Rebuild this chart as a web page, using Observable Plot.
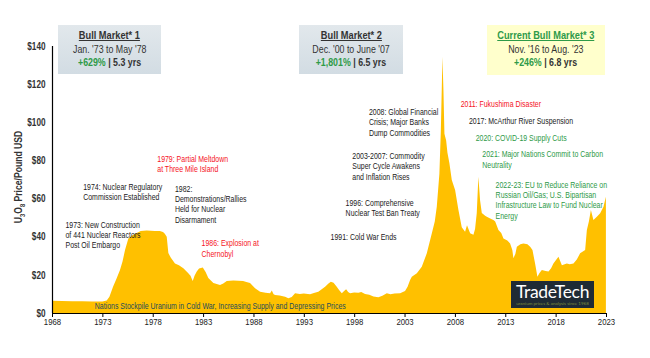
<!DOCTYPE html>
<html><head><meta charset="utf-8">
<script src="https://cdn.jsdelivr.net/npm/d3@7"></script>
<script src="https://cdn.jsdelivr.net/npm/@observablehq/plot@0.6"></script>
<style>
body{margin:0;background:#fff;}
#wrap{position:relative;width:650px;height:358px;font-family:"Liberation Sans",Arial,sans-serif;}
#wrap svg{position:absolute;left:0;top:0;overflow:visible;}
.box{position:absolute;text-align:center;color:#333;font-size:10.5px;line-height:13.5px;box-sizing:border-box;padding-top:4px;white-space:nowrap;}
.box .ln{display:block;}
.box .ln span.sq{display:inline-block;transform:scaleX(0.84);}
.box .t{font-weight:bold;font-size:11px;text-decoration:underline;}
.box .g{color:#2e9a48;font-weight:bold;}
.box .b{font-weight:bold;}
.blue{background:linear-gradient(#e2e8ec,#d2dce3);}
.yel{background:#ffffcc;}
#logo{position:absolute;left:511px;top:281px;width:83px;height:27px;background:#1f2b35;text-align:center;}
#logo .n{font-family:Lato,"Open Sans",sans-serif;color:#fff;font-size:17.5px;line-height:18px;letter-spacing:-0.3px;padding-top:2px;}
#logo .s{font-family:Lato,sans-serif;color:#7d8f3d;font-size:4.5px;line-height:5px;}
</style>
</head><body>
<div id="wrap"></div>
<script>
// U3O8 spot price (USD/lb)
const years = [1968,1969,1970,1971,1972,1973,1973.43,1973.7,1974.06,1974.4,1974.75,1975.0,1975.25,1975.58,1975.9,1976.41,1976.8,1977.4,1978.2,1978.7,1979.02,1979.2,1979.39,1979.55,1979.8,1980.21,1980.6,1981.04,1981.51,1981.75,1981.97,1982.15,1982.37,1982.6,1982.97,1983.25,1983.52,1984.02,1984.68,1985.0,1985.35,1986.0,1986.97,1987.3,1987.66,1988.16,1988.66,1989.2,1989.65,1989.82,1990.0,1990.15,1990.6,1991.14,1991.47,1991.8,1992.13,1992.6,1993.0,1993.62,1994.0,1994.44,1995.11,1995.45,1995.68,1995.95,1996.27,1996.5,1996.77,1997.0,1997.2,1997.4,1997.59,1998.0,1998.42,1998.7,1999.08,1999.5,1999.91,2000.4,2000.8,2001.24,2001.6,2002.0,2002.56,2003.05,2003.3,2003.55,2003.72,2004.22,2004.71,2005.21,2005.71,2006.0,2006.2,2006.46,2006.6,2006.7,2006.76,2006.86,2006.96,2007.13,2007.26,2007.45,2007.69,2008.02,2008.35,2008.68,2009.01,2009.2,2009.51,2009.84,2010.0,2010.17,2010.33,2010.5,2010.67,2011.0,2011.17,2011.5,2011.82,2012.0,2012.32,2012.6,2012.82,2013.2,2013.48,2013.7,2013.81,2014.0,2014.15,2014.5,2014.8,2015.2,2015.47,2015.7,2015.96,2016.19,2016.4,2016.63,2017.0,2017.29,2017.55,2017.78,2018.0,2018.28,2018.62,2019.11,2019.4,2019.77,2020.1,2020.43,2020.93,2021.1,2021.3,2021.5,2021.75,2022.09,2022.42,2022.75,2022.99];
const prices = [6.4,6.3,6.2,6.1,6.0,6.0,6.5,8.5,13.8,18,22.5,27,33,39,40.5,42,43,43.2,43,43,42.5,41.5,40,31.4,29,26,25,23.5,21,19.5,16.8,19.5,21.7,23.3,23.8,21.5,18.3,15.7,14.7,15.5,16.8,17,16.8,16.3,15.7,13,11.2,10.6,10.3,11.8,9.8,9.4,9.2,8.5,7.7,8.4,10.3,10,10.2,9.8,10.5,11.2,13.8,15.5,16.4,15.8,13.8,12,10.3,11.5,12.4,11,10.3,10.8,10.6,11,10,9.6,8.6,8.2,9,10.3,9.8,10.2,10.4,11.5,13.8,17.3,19,20.8,24.3,31.3,41.8,48,55.7,73,95,118.7,134.4,117,94,90.5,84,78.6,69.7,64.5,54,45,42.6,46,41.8,41,44,52.4,71.5,59,52.4,51,50.5,49.5,48.8,48,43.5,42,39,38,36.5,33,28.7,31,34.8,36,36.5,36,34.8,33,26,19,21,22.5,22,21.7,23.5,26,27.5,29.5,25,26,25.5,26,28,31.3,33,43.5,48,54,48.8,50.5,52.3,55.7,61];
const xTicks = [1968,1973,1978,1983,1988,1993,1998,2003,2008,2013,2018,2023];
const yTicks = [0,20,40,60,80,100,120,140];

const BLACK="#1a1a1a", RED="#f5141e", GREEN="#2e9a48", TEAL="#1d4d5b";
const notes = [
  {x:1978.40, y:83.5, c:RED,   t:"1979: Partial Meltdown\nat Three Mile Island"},
  {x:1971.05, y:68.7, c:BLACK, t:"1974: Nuclear Regulatory\nCommission Established"},
  {x:1980.15, y:67.8, c:BLACK, t:"1982:\nDemonstrations/Rallies\nHeld for Nuclear\nDisarmament"},
  {x:1969.29, y:48.9, c:BLACK, t:"1973: New Construction\nof 441 Nuclear Reactors\nPost Oil Embargo"},
  {x:1982.80, y:39.0, c:RED,   t:"1986: Explosion at\nChernobyl"},
  {x:1972.20, y:6.3,  c:TEAL,  t:"Nations Stockpile Uranium in Cold War, Increasing Supply and Depressing Prices"},
  {x:1999.41, y:108.0,c:BLACK, t:"2008: Global Financial\nCrisis; Major Banks\nDump Commodities"},
  {x:1997.76, y:84.9, c:BLACK, t:"2003-2007: Commodity\nSuper Cycle Awakens\nand Inflation Rises"},
  {x:1997.10, y:60.3, c:BLACK, t:"1996: Comprehensive\nNuclear Test Ban Treaty"},
  {x:1995.61, y:42.5, c:BLACK, t:"1991: Cold War Ends"},
  {x:2008.52, y:112.2,c:RED,   t:"2011: Fukushima Disaster"},
  {x:2009.34, y:103.3,c:BLACK, t:"2017: McArthur River Suspension"},
  {x:2010.01, y:94.5, c:GREEN, t:"2020: COVID-19 Supply Cuts"},
  {x:2010.67, y:85.8, c:GREEN, t:"2021: Major Nations Commit to Carbon\nNeutrality"},
  {x:2011.99, y:69.9, c:GREEN, t:"2022-23: EU to Reduce Reliance on\nRussian Oil/Gas; U.S. Bipartisan\nInfrastructure Law to Fund Nuclear\nEnergy"}
];

const data = years.map((y,i)=>({year:y, price:prices[i]}));
const FONT = '"Liberation Sans",Arial,sans-serif';
const SQ = 0.82; // horizontal condensing to mimic a narrow face

const chart = Plot.plot({
  width:650, height:358,
  marginLeft:52, marginRight:44, marginTop:46, marginBottom:45,
  style:{fontFamily:FONT, background:"transparent", color:"#333"},
  x:{domain:[1968,2023]},
  y:{domain:[0,140]},
  color:{type:"identity"},
  marks:[
    Plot.areaY(data,{x:"year", y:"price", fill:"#ffc000"}),
    Plot.ruleY([0],{stroke:"#000", strokeWidth:1.2}),
    Plot.ruleX([1968],{stroke:"#000", strokeWidth:1.2}),
    Plot.axisX({ticks:xTicks, tickFormat:d=>String(d), tickSize:4, tickPadding:1, label:null, fontSize:9.5, fill:"#222", stroke:"#000"}),
    Plot.axisY({ticks:yTicks, tickFormat:d=>"$"+d, tickSize:0, tickPadding:7, label:null, fontSize:10, fontWeight:"bold", fill:"#333"}),
    Plot.text(notes,{x:"x", y:"y", text:"t", fill:"c", textAnchor:"start", lineAnchor:"top", fontSize:8.5, lineHeight:1.22})
  ]
});

// y-axis title with subscripts
const yt = d3.select(chart).append("text")
  .attr("transform","translate(22,177) rotate(-90)")
  .attr("text-anchor","middle")
  .attr("font-family",FONT).attr("font-size",10.5).attr("font-weight","bold").attr("fill","#333");
yt.append("tspan").text("U");
yt.append("tspan").attr("font-size",7).attr("dy",2.5).text("3");
yt.append("tspan").attr("dy",-2.5).text("O");
yt.append("tspan").attr("font-size",7).attr("dy",2.5).text("8");
yt.append("tspan").attr("dy",-2.5).text(" Price/Pound USD");

// condense every SVG text horizontally about its anchor
d3.select(chart).selectAll("text").each(function(){
  const t = this.getAttribute("transform");
  const x = +(this.getAttribute("x")||0), y = +(this.getAttribute("y")||0);
  if (t) this.setAttribute("transform", t + ` scale(${SQ},1)`);
  else { this.setAttribute("transform", `translate(${x},${y}) scale(${SQ},1)`); this.removeAttribute("x"); this.removeAttribute("y"); }
});

const wrap = document.getElementById("wrap");
wrap.appendChild(chart);

const boxes = [
  {cls:"blue", l:58,  t:25, w:103, h:49, title:"Bull Market* 1", titleColor:"#333", range:"Jan. '73 to May '78", gain:"+629%", dur:"5.3 yrs"},
  {cls:"blue", l:299, t:25, w:104, h:49, title:"Bull Market* 2", titleColor:"#333", range:"Dec. '00 to June '07", gain:"+1,801%", dur:"6.5 yrs"},
  {cls:"yel",  l:487, t:25, w:118, h:50, title:"Current Bull Market* 3", titleColor:"#2e9a48", range:"Nov. '16 to Aug. '23", gain:"+246%", dur:"6.8 yrs"}
];
for (const b of boxes) {
  const d = document.createElement("div");
  d.className = "box " + b.cls;
  Object.assign(d.style,{left:b.l+"px", top:b.t+"px", width:b.w+"px", height:b.h+"px"});
  d.innerHTML = `<div class="ln"><span class="sq t" style="color:${b.titleColor}">${b.title}</span></div>`+
    `<div class="ln"><span class="sq">${b.range}</span></div>`+
    `<div class="ln"><span class="sq"><span class="g">${b.gain}</span> <span class="b">| ${b.dur}</span></span></div>`;
  wrap.appendChild(d);
}
const logo = document.createElement("div");
logo.id = "logo";
logo.innerHTML = '<div class="n">TradeTech</div><div class="s">uranium prices &amp; analysis since 1968</div>';
wrap.appendChild(logo);
</script>
</body></html>
